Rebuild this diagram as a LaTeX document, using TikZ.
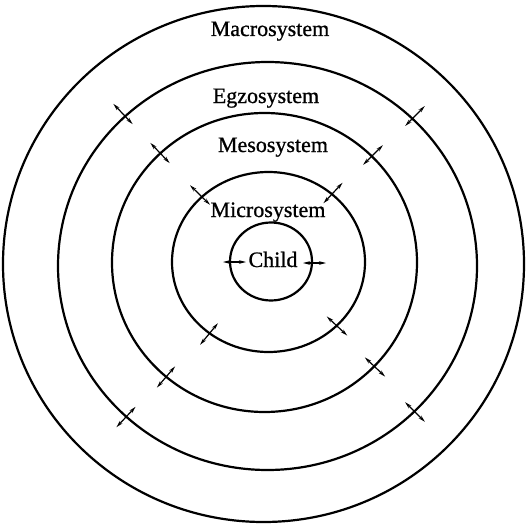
\documentclass[tikz,border=0pt]{standalone}
\usepackage{fontspec}
\setmainfont{Liberation Serif}[FakeBold=0.8]
\usetikzlibrary{arrows.meta,calc}
\begin{document}
\begin{tikzpicture}[x=1pt,y=-1pt,
  ring/.style={line width=2.2pt},
  lbl/.style={anchor=base,inner sep=0pt,font=\fontsize{22}{24}\selectfont},
  dbl/.style={line width=1.2pt,{Stealth[length=7pt,width=3.6pt]}-{Stealth[length=7pt,width=3.6pt]}}]
\useasboundingbox (0,0) rectangle (527,524);
% centers
\coordinate (c1) at (263.5,264);
\coordinate (c2) at (267.5,266);
\coordinate (c3) at (264.5,262.5);
\coordinate (c4) at (268.5,262);
\coordinate (c5) at (271,261.5);
% rings
\draw[ring] (c1) ellipse [x radius=260.5, y radius=258];
\draw[ring] (c2) ellipse [x radius=209.5, y radius=204];
\draw[ring] (c3) ellipse [x radius=152.5, y radius=149.5];
\draw[ring] (c4) ellipse [x radius=96.5, y radius=90];
\draw[ring] (c5) ellipse [x radius=41, y radius=39];
% labels
\node[lbl] (macro) at (270,36) {Macrosystem};
\node[lbl] (egzo) at (266,103) {Egzosystem};
\node[lbl] (meso) at (273,152) {Mesosystem};
\node[lbl] (micro) at (268,217) {Microsystem};
\node[lbl] (child) at (273,267) {Child};
% crossing points
\coordinate (e1) at (123,114);
\coordinate (e2) at (415,116);
\coordinate (e3) at (126,417);
\coordinate (e4) at (415,412);
\coordinate (m1) at (160,153);
\coordinate (m2) at (373,155);
\coordinate (m3) at (166,377);
\coordinate (m4) at (375,367);
\coordinate (i1) at (200,195);
\coordinate (i2) at (333,193);
\coordinate (i3) at (209,334);
\coordinate (i4) at (337,326);
\foreach \p/\c in {e1/c2,e2/c2,e3/c2,e4/c2,m1/c3,m2/c3,m3/c3,m4/c3,i1/c4,i2/c4,i3/c4,i4/c4}
  \draw[dbl] ($(\p)!14pt!(\c)$) -- ($(\p)!-14pt!(\c)$);
% child arrows
\coordinate (k1a) at (223,262);
\coordinate (k1b) at (246,262);
\coordinate (k2a) at (303,263);
\coordinate (k2b) at (326,263);
\draw[dbl] (k1a) -- (k1b);
\draw[dbl] (k2a) -- (k2b);
\end{tikzpicture}
\end{document}
